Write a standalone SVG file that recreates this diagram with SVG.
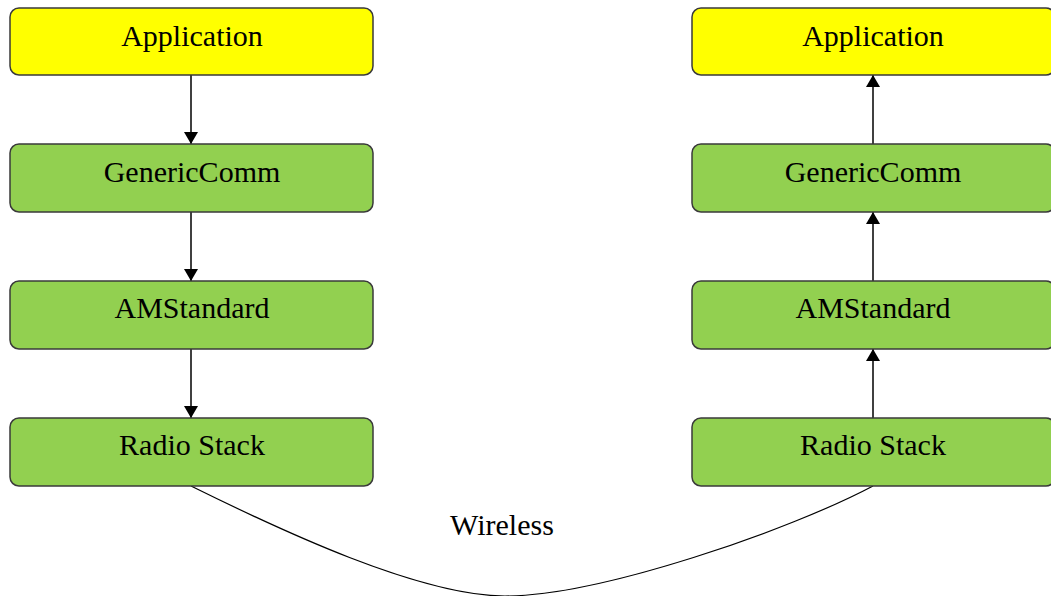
<svg xmlns="http://www.w3.org/2000/svg" width="1051" height="596" viewBox="0 0 1051 596">
<style>
.box{stroke:#3a3a3a;stroke-width:1.5}
.app{fill:#ffff00}
.grn{fill:#92d050}
text{font-family:"Liberation Serif","Times New Roman",serif;font-size:30px;fill:#000;text-anchor:middle}
.conn{stroke:#000;stroke-width:1.5;fill:none}
</style>
<defs>
<marker id="ah" viewBox="0 0 12 14" refX="12" refY="7" markerWidth="12" markerHeight="14" markerUnits="userSpaceOnUse" orient="auto">
<path d="M0,0 L12,7 L0,14 Z" fill="#000"/>
</marker>
</defs>
<rect width="1051" height="596" fill="#fff"/>
<g id="connectors">
<line class="conn" x1="191" y1="75" x2="191" y2="144" marker-end="url(#ah)"/>
<line class="conn" x1="191" y1="212" x2="191" y2="281" marker-end="url(#ah)"/>
<line class="conn" x1="191" y1="349" x2="191" y2="418" marker-end="url(#ah)"/>
<line class="conn" x1="873" y1="144" x2="873" y2="75" marker-end="url(#ah)"/>
<line class="conn" x1="873" y1="281" x2="873" y2="212" marker-end="url(#ah)"/>
<line class="conn" x1="873" y1="418" x2="873" y2="349" marker-end="url(#ah)"/>
<path class="conn" style="stroke-width:1.2" d="M191,486 C280,530 420,596 505,596 C600,596 790,530 873,486"/>
<text x="502" y="535">Wireless</text>
</g>
<g id="left-app"><rect class="box app" x="10" y="8" width="363" height="67" rx="9"/><text x="192" y="46">Application</text></g>
<g id="left-gc"><rect class="box grn" x="10" y="144" width="363" height="68" rx="9"/><text x="192" y="182">GenericComm</text></g>
<g id="left-am"><rect class="box grn" x="10" y="281" width="363" height="68" rx="9"/><text x="192" y="318">AMStandard</text></g>
<g id="left-radio"><rect class="box grn" x="10" y="418" width="363" height="68" rx="9"/><text x="192" y="455">Radio Stack</text></g>
<g id="right-app"><rect class="box app" x="692" y="8" width="363" height="67" rx="9"/><text x="873" y="46">Application</text></g>
<g id="right-gc"><rect class="box grn" x="692" y="144" width="363" height="68" rx="9"/><text x="873" y="182">GenericComm</text></g>
<g id="right-am"><rect class="box grn" x="692" y="281" width="363" height="68" rx="9"/><text x="873" y="318">AMStandard</text></g>
<g id="right-radio"><rect class="box grn" x="692" y="418" width="363" height="68" rx="9"/><text x="873" y="455">Radio Stack</text></g>
</svg>
